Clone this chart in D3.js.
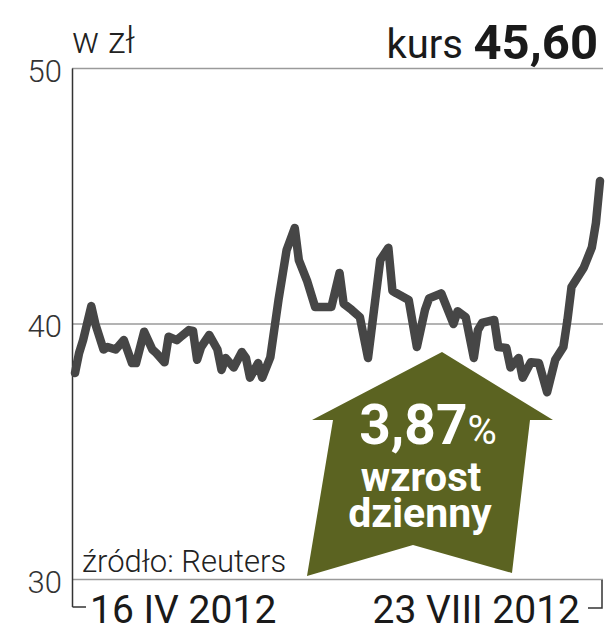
<!DOCTYPE html>
<html>
<head>
<meta charset="utf-8">
<script src="https://cdn.jsdelivr.net/npm/d3@7"></script>
<style>
body { margin: 0; background: #fff; }
svg { display: block; }
.lbl { font-family: Roboto, "Liberation Sans", sans-serif; }
</style>
</head>
<body>
<div id="chart"></div>
<script>
// notowania: dni od 16 IV 2012 i kurs w zł
var dni = [0,1,2,4,5,7,8,10,12,14,15,17,19,20,22,23,25,26,28,29,30,31,33,35,36,37,39,41,42,43,45,46,48,50,52,54,55,57,59,63,65,66,68,70,72,75,77,78,79,82,84,86,87,90,91,93,94,96,98,99,100,103,104,106,107,109,110,112,114,116,118,120,121,122,125,127,128,129]
var kurs = [38.08,38.86,39.37,40.7,40.0,39.0,39.1,39.0,39.37,38.47,38.47,39.7,39.0,38.86,38.5,39.5,39.37,39.5,39.76,39.73,38.6,39.1,39.57,39.0,38.2,38.67,38.3,38.9,38.67,37.9,38.47,37.9,38.7,40.94,42.9,43.76,42.5,41.7,40.67,40.67,42.0,40.8,40.55,40.27,38.67,42.5,42.98,41.3,41.2,40.94,39.1,40.55,41.0,41.2,40.8,40.0,40.5,40.27,38.67,39.76,40.04,40.16,39.1,39.06,38.3,38.67,37.9,38.5,38.47,37.33,38.6,39.1,40.16,41.45,42.2,43.0,43.96,45.6]
var yTicks = [30,40,50]
var xLabels = ["16 IV 2012","23 VIII 2012"]
var start = new Date(2012,3,16)
var end = new Date(2012,7,23)

var width = 605, height = 640

var svg = d3.select("#chart").append("svg")
  .attr("width",width)
  .attr("height",height)

var xScale = d3.scaleTime()
  .domain([start,end])
  .range([75,600])
var yScale = d3.scaleLinear()
  .domain([30,50])
  .range([579.5,68.5])

var data = dni.map(function(d,i) {
  return { date: d3.timeDay.offset(start,d), value: kurs[i] }
})

/* grid lines */
yTicks.forEach(function(t) {
  svg.append("line")
    .attr("x1",72)
    .attr("x2",603)
    .attr("y1",yScale(t))
    .attr("y2",yScale(t))
    .style("stroke","#9a9a9a")
    .style("stroke-width",1.6)
  svg.append("text")
    .attr("class","lbl")
    .attr("x",62)
    .attr("y",yScale(t) + 13)
    .attr("text-anchor","end")
    .style("font-size","31px")
    .style("font-weight",300)
    .style("fill","#333")
    .text(t)
})

/* left axis and bottom brackets */
svg.append("line")
  .attr("x1",72.5).attr("x2",72.5)
  .attr("y1",yScale(50)).attr("y2",607)
  .style("stroke","#333").style("stroke-width",1.5)
svg.append("path")
  .attr("d","M72.5,607 H86")
  .style("stroke","#333").style("stroke-width",1.5).style("fill","none")
svg.append("path")
  .attr("d","M602,580 V608 H588")
  .style("stroke","#333").style("stroke-width",1.5).style("fill","none")

/* arrow */
var arrow = [[442,352],[553,420],[530,420],[512,573],[413,545],[307,576],[333,420],[312,420]]
svg.append("polygon")
  .attr("points",arrow.map(function(p) { return p.join(",") }).join(" "))
  .style("fill","#5b6321")

var pct = svg.append("text")
  .attr("class","lbl")
  .attr("x",428)
  .attr("y",444)
  .attr("text-anchor","middle")
  .style("fill","#fff")
pct.append("tspan").text("3,87").style("font-size","55px").style("font-weight",700)
pct.append("tspan").text("%").style("font-size","40px").style("font-weight",400)
svg.append("text")
  .attr("class","lbl")
  .attr("x",421)
  .attr("y",491)
  .attr("text-anchor","middle")
  .style("font-size","40px")
  .style("font-weight",700)
  .style("fill","#fff")
  .text("wzrost")
svg.append("text")
  .attr("class","lbl")
  .attr("x",420)
  .attr("y",527)
  .attr("text-anchor","middle")
  .style("font-size","41px")
  .style("font-weight",700)
  .style("fill","#fff")
  .text("dzienny")

/* price line */
var lineFn = d3.line()
  .x(function(d) { return xScale(d.date) })
  .y(function(d) { return yScale(d.value) })
svg.append("path")
  .attr("d",lineFn(data))
  .style("fill","none")
  .style("stroke","#464646")
  .style("stroke-width",8.5)
  .style("stroke-linejoin","round")
  .style("stroke-linecap","round")

/* texts */
svg.append("text")
  .attr("class","lbl")
  .attr("x",72)
  .attr("y",53)
  .style("font-size","36px")
  .style("font-weight",300)
  .style("fill","#222")
  .text("w zł")
svg.append("text")
  .attr("class","lbl")
  .attr("x",463)
  .attr("y",58)
  .attr("text-anchor","end")
  .style("font-size","40px")
  .style("fill","#1a1a1a")
  .text("kurs")
svg.append("text")
  .attr("class","lbl")
  .attr("x",598)
  .attr("y",59)
  .attr("text-anchor","end")
  .style("font-size","49px")
  .style("font-weight",700)
  .style("fill","#1a1a1a")
  .text("45,60")
svg.append("text")
  .attr("class","lbl")
  .attr("x",82)
  .attr("y",572)
  .style("font-size","31px")
  .style("font-weight",300)
  .style("fill","#222")
  .text("źródło: Reuters")
svg.append("text")
  .attr("class","lbl")
  .attr("x",90)
  .attr("y",623)
  .style("font-size","39px")
  .style("fill","#1a1a1a")
  .text(xLabels[0])
svg.append("text")
  .attr("class","lbl")
  .attr("x",580)
  .attr("y",623)
  .attr("text-anchor","end")
  .style("font-size","39px")
  .style("fill","#1a1a1a")
  .text(xLabels[1])
</script>
</body>
</html>
